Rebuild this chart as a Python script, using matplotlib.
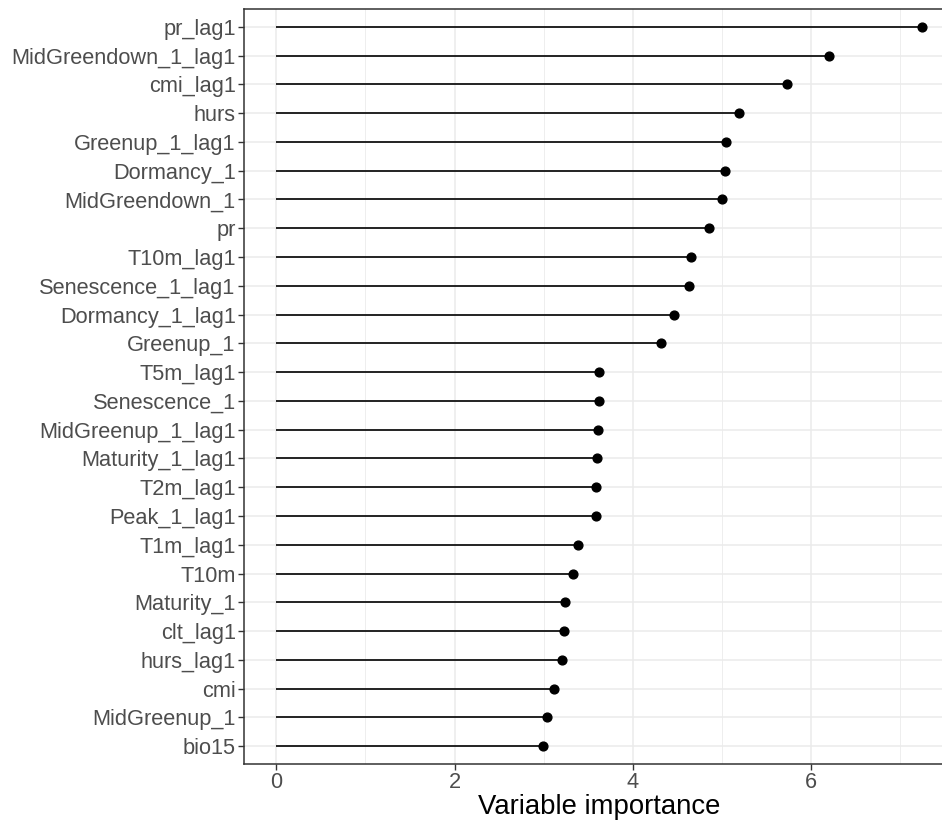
"""Lollipop chart of variable importance (ggplot theme_bw look)."""
import matplotlib

matplotlib.use("Agg")

import matplotlib.pyplot as plt  # noqa: E402
from matplotlib.ticker import MultipleLocator  # noqa: E402

variables = [
    "pr_lag1", "MidGreendown_1_lag1", "cmi_lag1", "hurs", "Greenup_1_lag1",
    "Dormancy_1", "MidGreendown_1", "pr", "T10m_lag1", "Senescence_1_lag1",
    "Dormancy_1_lag1", "Greenup_1", "T5m_lag1", "Senescence_1",
    "MidGreenup_1_lag1", "Maturity_1_lag1", "T2m_lag1", "Peak_1_lag1",
    "T1m_lag1", "T10m", "Maturity_1", "clt_lag1", "hurs_lag1", "cmi",
    "MidGreenup_1", "bio15",
]
importance = [
    7.24, 6.20, 5.73, 5.19, 5.04,
    5.03, 5.00, 4.85, 4.65, 4.63,
    4.46, 4.32, 3.62, 3.62,
    3.61, 3.60, 3.59, 3.59,
    3.39, 3.33, 3.24, 3.23, 3.20, 3.11,
    3.04, 2.99,
]

W, H = 942, 824
plt.rcParams["font.family"] = ["Liberation Sans", "DejaVu Sans"]

fig = plt.figure(figsize=(W / 100, H / 100), dpi=100)
# panel runs past the right edge of the picture, as in the reference crop
ax = fig.add_axes([244 / W, 1 - 763.5 / H, 710 / W, 754 / H])

n = len(variables)
ypos = list(range(n - 1, -1, -1))
ax.hlines(ypos, 0, importance, color="black", lw=1.2, zorder=3)
ax.scatter(importance, ypos, s=40, color="black", zorder=4)

ax.set_xlim(-0.362, 7.602)
ax.set_ylim(-0.6, n - 0.4)
ax.set_yticks(ypos)
ax.set_yticklabels(variables)
ax.xaxis.set_major_locator(MultipleLocator(2))
ax.xaxis.set_minor_locator(MultipleLocator(1))

ax.grid(True, which="major", color="#EBEBEB", lw=1.1, zorder=0)
ax.grid(True, which="minor", axis="x", color="#EBEBEB", lw=0.6, zorder=0)
ax.set_axisbelow(True)

for s in ax.spines.values():
    s.set_color("#333333")
    s.set_linewidth(1.1)
ax.spines["right"].set_visible(False)

ax.tick_params(axis="both", which="major", length=4, width=1, color="#333333",
               labelsize=15.7, labelcolor="#4D4D4D", pad=2)
ax.tick_params(axis="x", which="minor", length=0)

ax.set_xlabel("Variable importance", fontsize=19.8, color="black", labelpad=1)

fig.savefig("out.png", dpi=100)
plt.close(fig)
